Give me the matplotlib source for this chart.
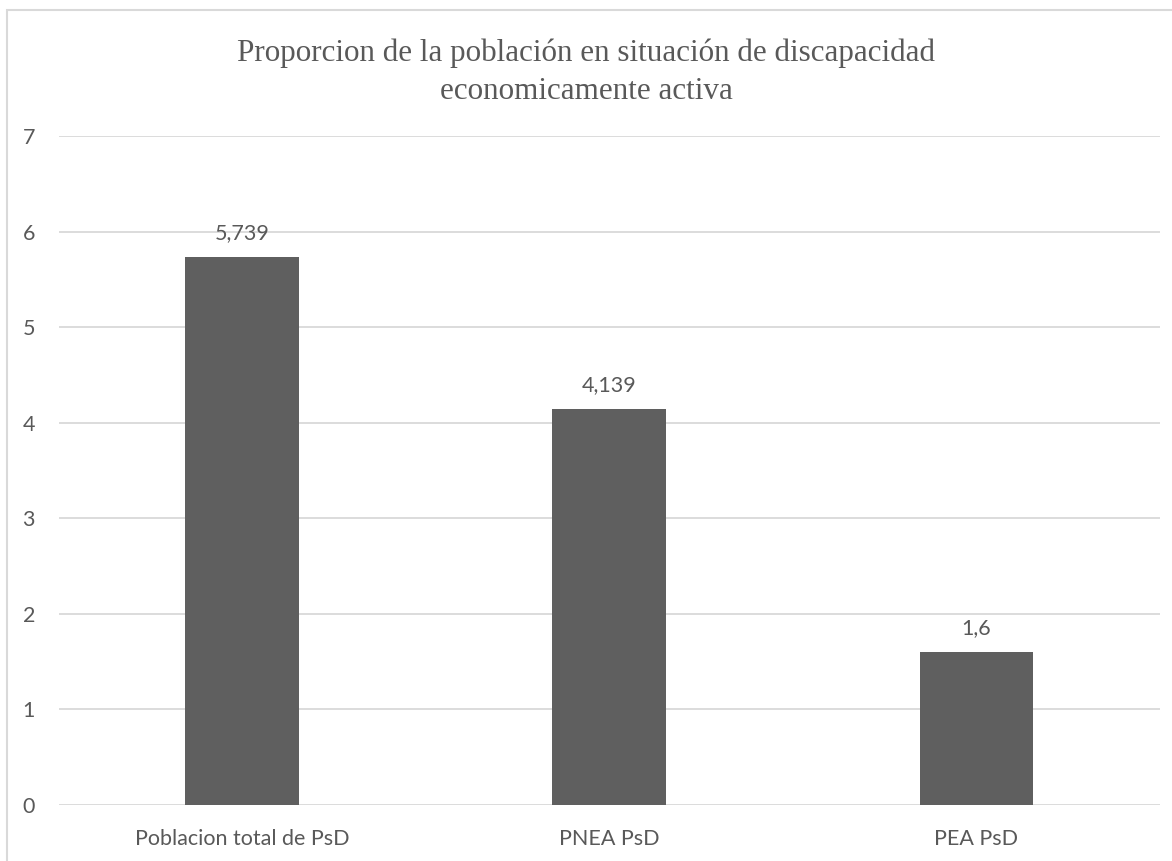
import matplotlib.pyplot as plt
from matplotlib.patches import Rectangle

categorias = ['Poblacion total de PsD', 'PNEA PsD', 'PEA PsD']
valores = [5.739, 4.139, 1.6]
ticks_y = [0, 1, 2, 3, 4, 5, 6, 7]
titulo = 'Proporcion de la población en situación de discapacidad\neconomicamente activa'

gris_texto = '#595959'
gris_barra = '#5f5f5f'
gris_linea = '#d9d9d9'

fig = plt.figure(figsize=(11.72, 8.61), dpi=100)
ax = fig.add_axes([58.5 / 1172, 1 - 805 / 861, (1160 - 58.5) / 1172, (805 - 136) / 861])

x = range(len(categorias))
barras = ax.bar(x, valores, width=0.31, color=gris_barra, zorder=3)
for b, v in zip(barras, valores):
    ax.annotate(str(v).replace('.', ','), (b.get_x() + b.get_width() / 2, v),
                xytext=(0, 10), textcoords='offset points', ha='center', va='bottom',
                fontsize=15.5, color=gris_texto, family='Lato')

ax.set_xlim(-0.5, len(categorias) - 0.5)
ax.set_ylim(0, 7)
ax.set_yticks(ticks_y)
ax.set_xticks(list(x))
ax.set_xticklabels(categorias)
ax.yaxis.grid(True, color=gris_linea, linewidth=1.3, zorder=0)
ax.tick_params(length=0, labelsize=15.5, labelcolor=gris_texto, pad=17)
ax.tick_params(axis='y', pad=17)
for lab in ax.get_xticklabels() + ax.get_yticklabels():
    lab.set_family('Lato')
for s in ax.spines.values():
    s.set_visible(False)

fig.text(0.5, 1 - 72 / 861, titulo, ha='center', va='center', fontsize=22.4,
         color=gris_texto, family='Liberation Serif', linespacing=1.42)

# marco del grafico
fig.patches.append(Rectangle((7 / 1172, -0.1), 1.2, (861 - 10) / 861 + 0.1,
                             transform=fig.transFigure, fill=False,
                             edgecolor=gris_linea, linewidth=1.5))

fig.savefig('out.png', dpi=100)
